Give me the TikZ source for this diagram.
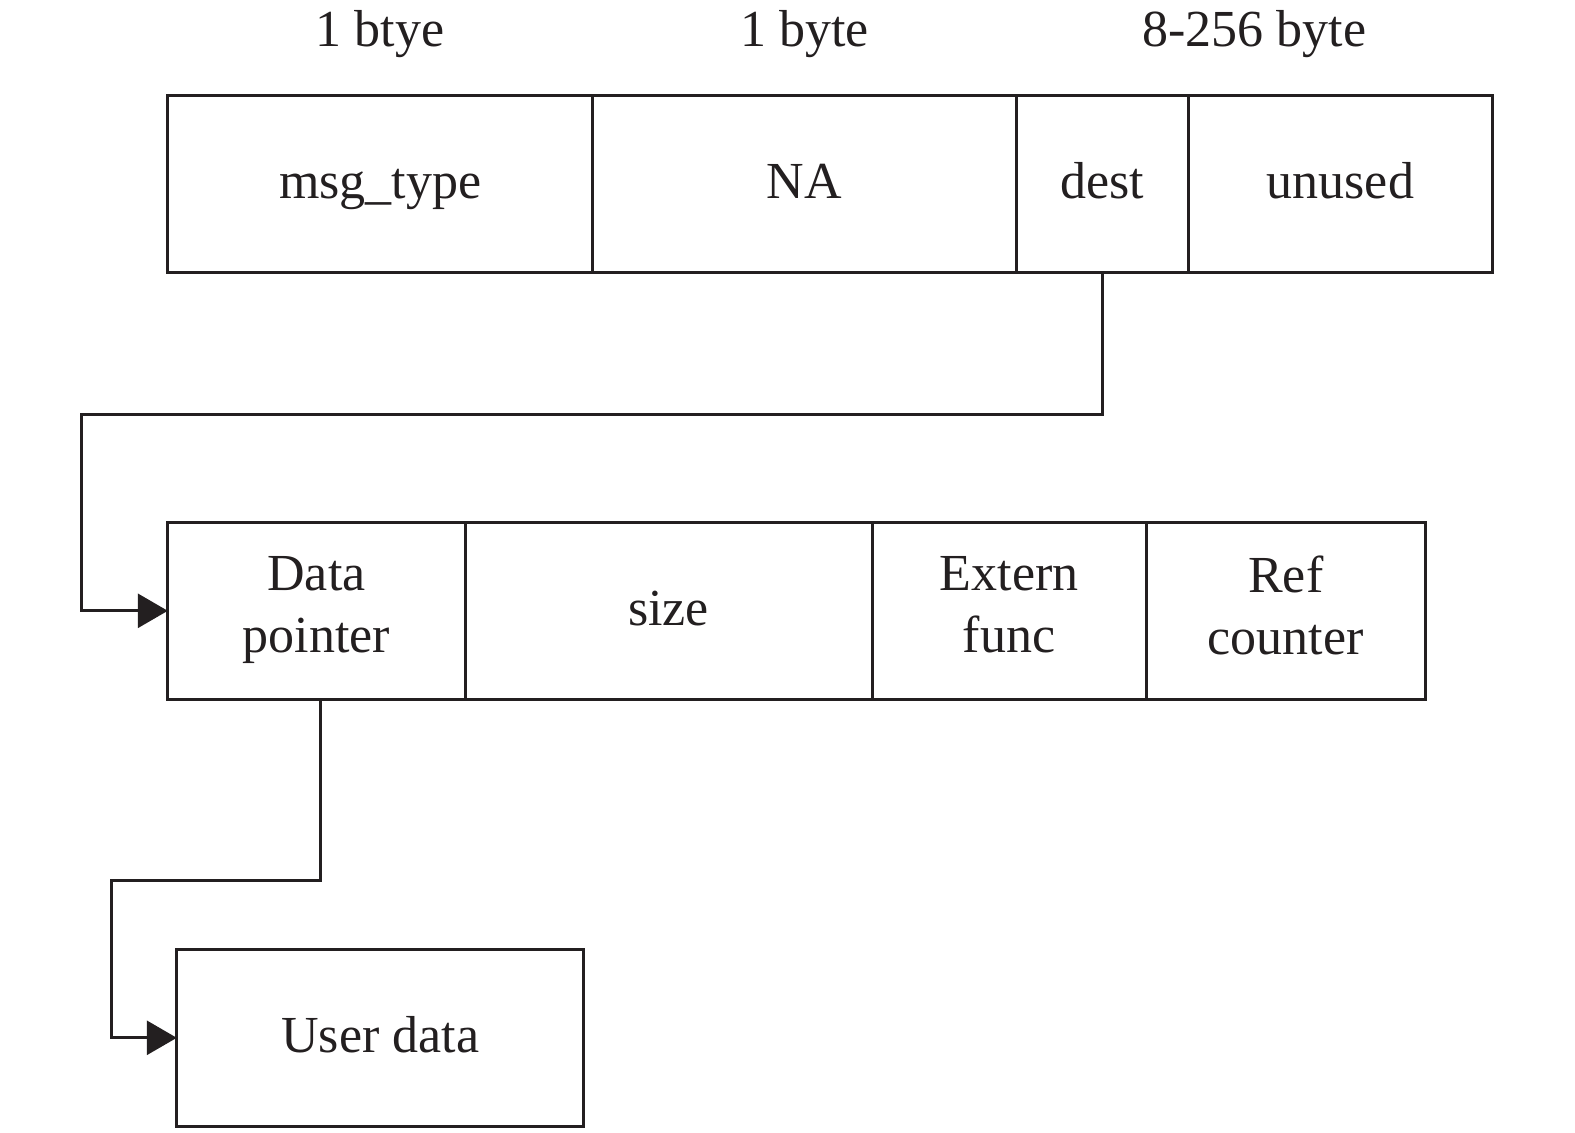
\documentclass[tikz,border=0pt]{standalone}
\usepackage{fontspec}
\setmainfont{Liberation Serif}
\usetikzlibrary{arrows.meta, positioning, calc}
\definecolor{ink}{HTML}{231F20}
\newcommand{\fieldstrut}{\rule[-6pt]{0pt}{27pt}}
\tikzset{
    field/.style={draw=ink, line width=1.5pt, minimum width=#1, minimum height=88.4pt,
                  inner sep=0pt, outer sep=0pt, align=center, text=ink,
                  execute at begin node=\fieldstrut, execute at end node=\fieldstrut},
    field/.default=150pt
}

\begin{document}
\begin{tikzpicture}[
    sizelbl/.style={text=ink, anchor=base},
    link/.style={draw=ink, line width=1.5pt, -{Triangle[length=15pt, width=17pt]}},
    node distance=0cm and 0cm,
    font=\fontsize{26}{31}\selectfont
]
\useasboundingbox (0,0) rectangle (787.5pt,-566pt);

% Header row
\node[field=212.4pt, anchor=north west] (msgtype) at (83.9pt,-47.7pt) {msg\_type};
\node[field=211.9pt, right=0cm of msgtype] (na) {NA};
\node[field=85.9pt, right=0cm of na] (dest) {dest};
\node[field=152.2pt, right=0cm of dest] (unused) {unused};

% Sizes above the header
\node[sizelbl] (lbltype) at ([yshift=24.6pt]msgtype.north) {1 btye};
\node[sizelbl] (lblna) at ([yshift=24.6pt]na.north) {1 byte};
\node[sizelbl] (lbldest) at ([yshift=24.6pt]$(dest.north west)!0.5!(unused.north east)$) {8-256 byte};

% Buffer descriptor row
\node[field=148.7pt, below=125.1pt of msgtype.south west, anchor=north west] (dptr) {Data\\pointer};
\node[field=203.4pt, right=0cm of dptr] (size) {size};
\node[field=137.1pt, right=0cm of size] (extfunc) {Extern\\func};
\node[field=139.6pt, right=0cm of extfunc] (refcnt) {Ref\\counter};

% User data
\node[field=203.4pt, below=125.1pt of dptr.south west, anchor=north west, xshift=4.5pt] (udata) {User data};

% dest -> Data pointer
\coordinate (jog1) at ([yshift=-71.3pt]dest.south);
\coordinate (feed1) at ([xshift=-43.2pt]dptr.west);
\draw[link] (dest.south) -- (jog1) -| (feed1) -- (dptr.west);

% Data pointer -> User data
\coordinate (jog2) at ([xshift=2pt, yshift=-90.4pt]dptr.south);
\coordinate (feed2) at ([xshift=-32.6pt]udata.west);
\draw[link] ([xshift=2pt]dptr.south) -- (jog2) -| (feed2) -- (udata.west);

\end{tikzpicture}
\end{document}
